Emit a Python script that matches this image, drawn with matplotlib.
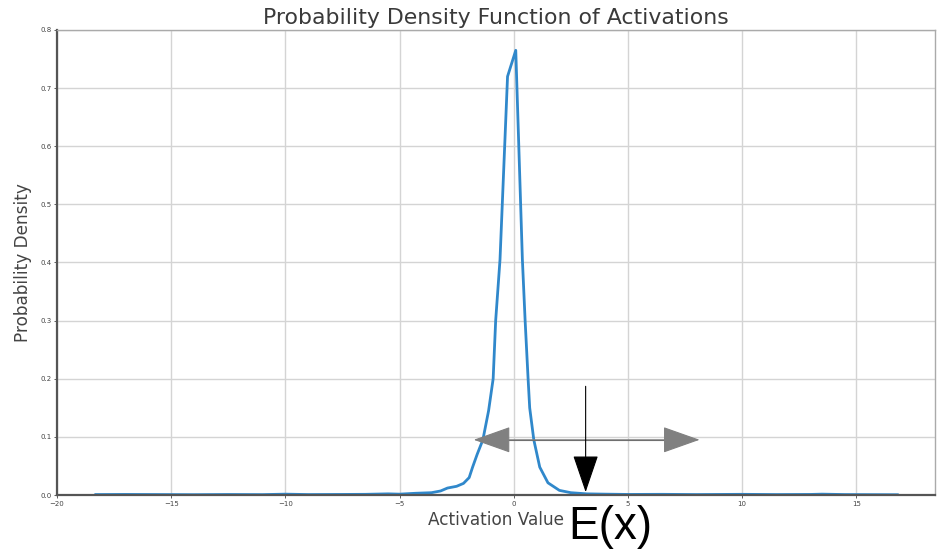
import matplotlib
matplotlib.use("Agg")
import matplotlib.pyplot as plt

# Data
activation = [-18.3, -17.0, -15.5, -14.0, -12.5, -11.0, -10.0, -9.0, -7.5, -6.5,
              -5.5, -5.0, -4.3, -3.6, -3.2, -2.9, -2.5, -2.2, -1.95, -1.8,
              -1.6, -1.35, -1.1, -0.9, -0.79, -0.6, -0.27, 0.09, 0.38, 0.5,
              0.63, 0.7, 0.88, 1.14, 1.5, 2.0, 2.5, 3.2, 4.0, 5.0,
              6.5, 8.0, 10.0, 11.5, 13.0, 13.5, 14.5, 16.0, 16.8]
density = [0.0008, 0.0010, 0.0008, 0.0006, 0.0009, 0.0007, 0.0015, 0.0008, 0.0010, 0.0012,
           0.0020, 0.0015, 0.0030, 0.0040, 0.0070, 0.0120, 0.0150, 0.0200, 0.0300, 0.0480,
           0.0700, 0.0950, 0.1450, 0.2000, 0.3000, 0.4050, 0.7200, 0.7650, 0.4050, 0.3000,
           0.2000, 0.1500, 0.0950, 0.0480, 0.0210, 0.0080, 0.0040, 0.0020, 0.0015, 0.0010,
           0.0012, 0.0008, 0.0012, 0.0008, 0.0010, 0.0015, 0.0008, 0.0006, 0.0005]

x_ticks = [-20, -15, -10, -5, 0, 5, 10, 15]
y_ticks = [0.0, 0.1, 0.2, 0.3, 0.4, 0.5, 0.6, 0.7, 0.8]

# annotation anchors (data units)
ex_x = 3.15
ex_y_top, ex_y_tip = 0.187, 0.005
spread_y = 0.095
spread_left, spread_right = -1.75, 8.14

fig = plt.figure(figsize=(9.42, 5.51), dpi=100)
ax = fig.add_axes([0.0605, 0.1016, 0.9321, 0.844])

ax.plot(activation, density, color="#3088cb", lw=2.0)

ax.set_xlim(-20, 18.45)
ax.set_ylim(0, 0.8)
ax.set_xticks(x_ticks)
ax.set_yticks(y_ticks)
ax.tick_params(labelsize=5, length=2, width=0.6, colors="#444444", pad=2)
ax.grid(True, color="#d4d4d4", lw=1.0)
ax.set_axisbelow(True)
for s in ["left", "bottom"]:
    ax.spines[s].set_color("#555555")
    ax.spines[s].set_linewidth(1.6)
for s in ["top", "right"]:
    ax.spines[s].set_color("#aaaaaa")
    ax.spines[s].set_linewidth(1.0)

ax.set_title("Probability Density Function of Activations", fontsize=15.8,
             color="#3a3a3a", pad=4)
ax.set_xlabel("Activation Value", fontsize=12.2, color="#444444")
ax.set_ylabel("Probability Density", fontsize=12.2, color="#444444")
ax.xaxis.set_label_coords(0.5, -0.034)
ax.yaxis.set_label_coords(-0.029, 0.5)

# horizontal spread arrow
ax.annotate("", xy=(spread_right, spread_y), xytext=(spread_left, spread_y),
            arrowprops=dict(arrowstyle="<|-|>,head_length=24,head_width=8.5",
                            mutation_scale=1, fc="#808080", ec="#808080",
                            lw=0.8, shrinkA=0, shrinkB=0))
ax.plot([spread_left + 1.2, spread_right - 1.2], [spread_y, spread_y],
        color="#666666", lw=0.8)

# vertical E(x) arrow
ax.annotate("", xy=(ex_x, ex_y_tip), xytext=(ex_x, ex_y_top),
            arrowprops=dict(arrowstyle="-|>,head_length=24,head_width=8.2",
                            mutation_scale=1, fc="black", ec="black",
                            lw=0.8, shrinkA=0, shrinkB=0),
            annotation_clip=False)
ax.text(ex_x - 0.75, -0.076, "E(x)", fontsize=33, family="Liberation Sans",
        color="black", ha="left", va="baseline", clip_on=False)

fig.savefig("out.png", dpi=100)
